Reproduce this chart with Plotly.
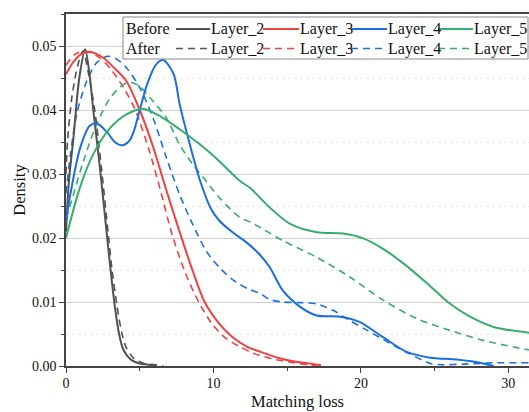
import plotly.graph_objects as go

# ---------------- data ----------------
layers = ["Layer_2", "Layer_3", "Layer_4", "Layer_5"]
colors = ["#515151", "#F14040", "#1A6FDF", "#37AD6B"]

l2_before_x = [0, 0.2, 0.5, 0.9, 1.3, 1.6, 1.85, 2.3, 2.75, 3.0, 3.3, 3.6, 3.9, 4.4, 5.0, 5.6, 6.1]
l2_before_y = [0.021, 0.029, 0.0355, 0.045, 0.0495, 0.0455, 0.040, 0.031, 0.021, 0.0155, 0.0095, 0.005, 0.0025, 0.001, 0.0004, 0.0002, 0.0]
l2_after_x = [0, 0.1, 0.4, 0.8, 1.15, 1.5, 1.95, 2.4, 2.85, 3.1, 3.45, 3.8, 4.1, 4.6, 5.3, 6.0, 6.6]
l2_after_y = [0.03, 0.035, 0.042, 0.047, 0.0492, 0.046, 0.040, 0.031, 0.021, 0.0155, 0.0095, 0.005, 0.0028, 0.0012, 0.0004, 0.0002, 0.0]

l3_before_x = [0, 0.5, 1.0, 1.6, 2.5, 3.3, 4.1, 5.0, 5.9, 6.8, 7.7, 8.6, 9.4, 10.4, 11.3, 12.3, 13.2, 14.5, 15.5, 16.5, 17.3]
l3_before_y = [0.0456, 0.0475, 0.0487, 0.0491, 0.0482, 0.0465, 0.0445, 0.040, 0.0343, 0.0275, 0.021, 0.0148, 0.010, 0.0066, 0.0045, 0.003, 0.0022, 0.0012, 0.0007, 0.0004, 0.0001]
l3_after_x = [0, 0.6, 1.3, 2.2, 3.0, 3.9, 4.7, 5.6, 6.4, 7.2, 8.1, 9.0, 9.9, 10.8, 11.8, 12.7, 14.0, 15.2, 16.4, 17.0]
l3_after_y = [0.047, 0.0487, 0.0492, 0.0483, 0.0465, 0.0435, 0.040, 0.034, 0.0275, 0.0205, 0.0145, 0.010, 0.0066, 0.0044, 0.003, 0.002, 0.0011, 0.0006, 0.0002, 0.0001]

l4_before_x = [0, 0.27, 0.95, 1.6, 2.1, 2.8, 3.3, 3.8, 4.3, 4.6, 5.0, 5.5, 6.1, 6.6, 7.3, 7.7, 8.4, 9.1, 9.8, 10.4, 11.3, 12.3, 13.1, 13.8, 14.7, 15.9, 17.0, 18.6, 19.9, 21.5, 23.1, 24.7, 26.5, 28.3, 29.0]
l4_before_y = [0.0225, 0.0265, 0.034, 0.0375, 0.0379, 0.0365, 0.035, 0.0345, 0.0352, 0.0367, 0.040, 0.044, 0.0471, 0.0478, 0.0456, 0.041, 0.0346, 0.0289, 0.0247, 0.0227, 0.0209, 0.0192, 0.0175, 0.0155, 0.0118, 0.0092, 0.0079, 0.0077, 0.0069, 0.0045, 0.0022, 0.0013, 0.001, 0.0004, 0.0]
l4_after_x = [0, 0.3, 0.72, 1.4, 2.08, 2.8, 3.4, 4.1, 5.0, 5.9, 6.8, 7.7, 8.6, 9.5, 10.4, 11.3, 12.3, 13.2, 13.8, 14.7, 16.0, 17.0, 18.1, 19.25, 20.4, 22.0, 23.3, 24.7, 25.5, 27.0, 29.0, 31.4]
l4_after_y = [0.027, 0.033, 0.0393, 0.0445, 0.0474, 0.0484, 0.048, 0.0466, 0.0435, 0.0388, 0.0326, 0.0268, 0.0221, 0.018, 0.0154, 0.0135, 0.0121, 0.0113, 0.0104, 0.0100, 0.0099, 0.0097, 0.0087, 0.0071, 0.0056, 0.0035, 0.0019, 0.0004, 0.0002, 0.0003, 0.0005, 0.0005]

l5_before_x = [0, 0.95, 1.85, 3.0, 4.1, 5.2, 6.4, 7.7, 9.1, 10.4, 11.8, 12.5, 13.8, 15.2, 17.0, 18.8, 20.2, 21.5, 22.9, 24.5, 26.0, 27.4, 29.0, 31.4]
l5_before_y = [0.020, 0.0279, 0.0331, 0.0372, 0.0393, 0.0402, 0.039, 0.037, 0.0346, 0.032, 0.0289, 0.0278, 0.0248, 0.0222, 0.0209, 0.0207, 0.0199, 0.0183, 0.016, 0.0129, 0.0098, 0.0077, 0.0061, 0.0052]
l5_after_x = [0, 0.4, 1.18, 2.08, 3.0, 3.9, 4.4, 5.0, 5.7, 6.8, 7.7, 8.6, 9.5, 10.4, 11.8, 12.5, 13.2, 14.7, 17.0, 19.25, 21.5, 23.8, 26.0, 28.3, 31.4]
l5_after_y = [0.023, 0.026, 0.032, 0.0378, 0.0419, 0.044, 0.0443, 0.0437, 0.0419, 0.0388, 0.0346, 0.0315, 0.0289, 0.0263, 0.0232, 0.0225, 0.0216, 0.0196, 0.017, 0.0139, 0.0103, 0.0074, 0.0056, 0.004, 0.0025]

before = [(l2_before_x, l2_before_y), (l3_before_x, l3_before_y), (l4_before_x, l4_before_y), (l5_before_x, l5_before_y)]
after = [(l2_after_x, l2_after_y), (l3_after_x, l3_after_y), (l4_after_x, l4_after_y), (l5_after_x, l5_after_y)]

x_ticks = [0, 10, 20, 30]
y_ticks = [0.00, 0.01, 0.02, 0.03, 0.04, 0.05]

FONT = "Liberation Serif, Times New Roman, serif"
W, H = 529, 412
ML, MR, MT, MB = 66, 0, 14, 46
DASH = "7px,5px"

fig = go.Figure()
for (xs, ys), name, c in zip(after, layers, colors):
    fig.add_trace(go.Scatter(x=xs, y=ys, mode="lines", name="After " + name,
                             line=dict(color=c, width=1.6, dash=DASH, shape="spline", smoothing=0.8),
                             showlegend=False))
for (xs, ys), name, c in zip(before, layers, colors):
    fig.add_trace(go.Scatter(x=xs, y=ys, mode="lines", name="Before " + name,
                             line=dict(color=c, width=2, shape="spline", smoothing=0.8),
                             showlegend=False))

# ---------------- custom legend (paper coordinates from page pixels) ----------------
pw, ph = W - ML - MR, H - MT - MB
def px(x):
    return (x - ML) / pw
def py(y):
    return (H - MB - y) / ph

shapes = [dict(type="rect", xref="paper", yref="paper", x0=px(123), x1=px(528), y0=py(59), y1=py(17),
               line=dict(color="#8a8a8a", width=1), fillcolor="white", layer="above")]
annotations = []
row_y = [29, 48.5]
row_lab = ["Before", "After"]
seg = [(176, 210), (263, 299), (351, 387), (438, 473)]
lab_x = [210, 299, 387, 473]
for r in range(2):
    annotations.append(dict(text=row_lab[r], x=px(125), y=py(row_y[r]), xref="paper", yref="paper",
                            xanchor="left", yanchor="middle", showarrow=False, borderpad=0,
                            font=dict(family=FONT, size=16, color="#111")))
    for i in range(4):
        shapes.append(dict(type="line", xref="paper", yref="paper", x0=px(seg[i][0]), x1=px(seg[i][1]),
                           y0=py(row_y[r]), y1=py(row_y[r]), layer="above",
                           line=dict(color=colors[i], width=1.6 if r else 2, dash=DASH if r else "solid")))
        annotations.append(dict(text=layers[i], x=px(lab_x[i]), y=py(row_y[r]), xref="paper", yref="paper",
                                xanchor="left", yanchor="middle", showarrow=False, borderpad=0,
                                font=dict(family=FONT, size=16, color="#111")))

fig.update_layout(
    width=W, height=H, margin=dict(l=ML, r=MR, t=MT, b=MB, autoexpand=False),
    paper_bgcolor="white", plot_bgcolor="white",
    font=dict(family=FONT, size=14, color="#111"),
    shapes=shapes, annotations=annotations, showlegend=False,
)
fig.update_xaxes(range=[0, 31.4], tickvals=x_ticks, ticks="outside", ticklen=5, tickwidth=1,
                 tickcolor="#444", showline=True, linecolor="#444", linewidth=1.5, mirror=True,
                 showgrid=False, zeroline=False, automargin=False, ticklabelstandoff=-2,
                 minor=dict(dtick=5, tick0=0, ticks="outside", ticklen=3, tickcolor="#444", showgrid=False),
                 tickfont=dict(family=FONT, size=14),
                 title=dict(text="Matching loss", font=dict(family=FONT, size=16.5), standoff=6))
fig.update_yaxes(range=[0, 0.055], tickvals=y_ticks, tickformat=".2f", ticks="outside", ticklen=5,
                 tickwidth=1, tickcolor="#444", showline=True, linecolor="#444", linewidth=1.5,
                 showgrid=True, gridcolor="#cfcfcf", gridwidth=1, zeroline=False, automargin=False,
                 minor=dict(dtick=0.005, tick0=0, ticks="outside", ticklen=3, tickcolor="#444",
                            showgrid=True, gridcolor="#e6e6e6", griddash="dot"),
                 tickfont=dict(family=FONT, size=14),
                 title=dict(text="Density", font=dict(family=FONT, size=16.5), standoff=2))

# remove the default page margin / scrollbars so the 529x412 figure fills the window exactly
page_css = ("document.documentElement.style.overflow='hidden';"
            "document.body.style.margin='0px';"
            "document.body.style.overflow='hidden';")
fig.write_html("out.html", post_script=page_css, config={"displayModeBar": False})
